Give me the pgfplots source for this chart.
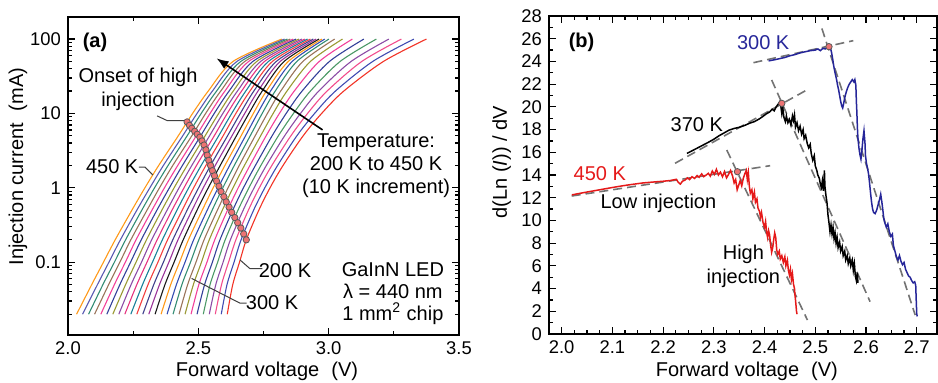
\documentclass[border=0pt]{standalone}
\usepackage{pgfplots}
\pgfplotsset{compat=1.18}
\usepackage{pgfplotstable}
\usepackage{fontspec}
\setmainfont{Liberation Sans}
\usetikzlibrary{arrows.meta}

\definecolor{c0}{rgb}{1.00,0.60,0.10}
\definecolor{c1}{rgb}{0.35,0.35,0.70}
\definecolor{c2}{rgb}{0.20,0.55,0.45}
\definecolor{c3}{rgb}{0.60,0.45,0.35}
\definecolor{c4}{rgb}{0.95,0.25,0.60}
\definecolor{c5}{rgb}{0.20,0.25,0.60}
\definecolor{c6}{rgb}{0.60,0.60,0.20}
\definecolor{c7}{rgb}{0.55,0.30,0.65}
\definecolor{c8}{rgb}{0.90,0.20,0.50}
\definecolor{c9}{rgb}{0.10,0.50,0.60}
\definecolor{c10}{rgb}{0.95,0.25,0.25}
\definecolor{c11}{rgb}{0.25,0.25,0.55}
\definecolor{c12}{rgb}{0.60,0.20,0.60}
\definecolor{c13}{rgb}{0.10,0.10,0.10}
\definecolor{c14}{rgb}{1.00,0.60,0.10}
\definecolor{c15}{rgb}{0.20,0.30,0.70}
\definecolor{c16}{rgb}{0.20,0.55,0.45}
\definecolor{c17}{rgb}{0.60,0.45,0.35}
\definecolor{c18}{rgb}{0.60,0.60,0.20}
\definecolor{c19}{rgb}{0.95,0.25,0.60}
\definecolor{c20}{rgb}{0.20,0.25,0.60}
\definecolor{c21}{rgb}{0.30,0.60,0.40}
\definecolor{c22}{rgb}{0.55,0.30,0.65}
\definecolor{c23}{rgb}{0.95,0.30,0.55}
\definecolor{c24}{rgb}{0.25,0.30,0.70}
\definecolor{c25}{rgb}{0.95,0.20,0.15}
\definecolor{bred}{rgb}{0.90,0.10,0.10}
\definecolor{bblue}{rgb}{0.15,0.15,0.60}
\definecolor{dotfill}{rgb}{0.93,0.45,0.45}
\definecolor{dashgray}{rgb}{0.45,0.45,0.45}

% I-V curves: current (mA) and voltage (V) for 450 K (k0) ... 200 K (k25)
\pgfplotstableread{
I k0 k1 k2 k3 k4 k5 k6 k7 k8 k9 k10 k11 k12 k13 k14 k15 k16 k17 k18 k19 k20 k21 k22 k23 k24 k25
0.02 2.033 2.056 2.079 2.102 2.126 2.149 2.172 2.195 2.218 2.241 2.264 2.287 2.310 2.334 2.357 2.380 2.403 2.426 2.449 2.472 2.495 2.519 2.542 2.565 2.588 2.611
0.05 2.091 2.113 2.134 2.156 2.178 2.199 2.221 2.242 2.264 2.286 2.307 2.329 2.351 2.372 2.394 2.416 2.437 2.459 2.481 2.502 2.524 2.545 2.567 2.589 2.610 2.632
0.1 2.136 2.157 2.178 2.199 2.220 2.240 2.261 2.282 2.303 2.324 2.345 2.366 2.387 2.407 2.428 2.449 2.470 2.491 2.512 2.533 2.554 2.574 2.595 2.616 2.637 2.658
0.2 2.181 2.201 2.221 2.241 2.261 2.281 2.301 2.321 2.342 2.362 2.382 2.402 2.422 2.442 2.462 2.482 2.502 2.522 2.542 2.563 2.583 2.603 2.623 2.644 2.664 2.684
0.5 2.245 2.264 2.283 2.303 2.322 2.341 2.360 2.380 2.399 2.418 2.438 2.457 2.476 2.495 2.515 2.534 2.553 2.573 2.592 2.612 2.632 2.652 2.672 2.692 2.712 2.732
1 2.295 2.314 2.332 2.351 2.370 2.389 2.407 2.426 2.445 2.463 2.482 2.501 2.519 2.538 2.557 2.576 2.594 2.614 2.633 2.653 2.673 2.694 2.714 2.734 2.755 2.775
2 2.348 2.366 2.384 2.402 2.421 2.439 2.457 2.475 2.493 2.511 2.529 2.547 2.565 2.584 2.602 2.620 2.638 2.657 2.677 2.698 2.719 2.740 2.761 2.782 2.804 2.825
5 2.423 2.440 2.457 2.475 2.492 2.509 2.526 2.543 2.561 2.578 2.595 2.612 2.629 2.646 2.664 2.681 2.699 2.718 2.739 2.760 2.783 2.807 2.831 2.855 2.878 2.902
10 2.478 2.495 2.511 2.528 2.545 2.561 2.578 2.594 2.611 2.628 2.644 2.661 2.678 2.694 2.711 2.727 2.745 2.765 2.787 2.811 2.837 2.865 2.892 2.919 2.946 2.973
20 2.538 2.554 2.570 2.586 2.602 2.618 2.634 2.650 2.666 2.682 2.698 2.713 2.729 2.745 2.761 2.777 2.795 2.816 2.840 2.868 2.898 2.930 2.962 2.994 3.026 3.058
50 2.633 2.648 2.663 2.678 2.693 2.709 2.724 2.739 2.754 2.769 2.784 2.799 2.814 2.829 2.845 2.860 2.878 2.901 2.930 2.964 3.003 3.044 3.086 3.127 3.169 3.210
100 2.820 2.831 2.842 2.853 2.864 2.875 2.886 2.897 2.908 2.919 2.930 2.941 2.952 2.963 2.974 2.985 3.001 3.023 3.053 3.091 3.135 3.183 3.231 3.279 3.327 3.375
}\IVdata

\pgfplotsset{
  myax/.style={
    scale only axis,
    /pgf/number format/assume math mode=true,
    axis line style={line width=0.7pt},
    tick style={line width=0.6pt,black},
    major tick length=3.5pt,
    minor tick length=2pt,
    tick align=inside,
    tick label style={font=\fontsize{9.2}{11}\selectfont},
    label style={font=\fontsize{10}{12}\selectfont},
  }
}

\begin{document}
\begin{tikzpicture}[font=\fontsize{10}{12}\selectfont]
% ---------------- panel (a) ----------------
\begin{axis}[myax,
  at={(34pt,23.5pt)}, anchor=south west,
  width=195.5pt, height=159pt,
  xmin=2, xmax=3.5, ymode=log, ymin=0.0105, ymax=198,
  xtick={2,2.5,3,3.5}, xticklabels={2.0,2.5,3.0,3.5},
  minor xtick={2.25,2.75,3.25},
  ytick={0.1,1,10,100}, yticklabels={0.1,1,10,100},
  minor ytick={0.02,0.03,0.04,0.05,0.06,0.07,0.08,0.09,0.2,0.3,0.4,0.5,0.6,0.7,0.8,0.9,2,3,4,5,6,7,8,9,20,30,40,50,60,70,80,90},
  xlabel={Forward voltage\hspace{0.6em}(V)},
  ylabel={Injection current\hspace{0.6em}(mA)},
  xlabel style={at={(axis description cs:0.509,-0.084)},anchor=north,inner sep=0pt},
  ylabel style={at={(axis description cs:-0.128,0.53)},anchor=center,inner sep=0pt},
]
\pgfplotsinvokeforeach{0,...,25}{
  \addplot[c#1, line width=0.55pt, smooth, no markers] table[x=k#1, y=I]{\IVdata};
}
\addplot[only marks, mark=*, mark size=1.6pt,
  mark options={fill=dotfill, draw=black!65, line width=0.4pt}] coordinates {
(2.457,7.69) (2.466,6.92) (2.475,6.31) (2.486,5.75) (2.496,5.25) (2.506,4.79)
(2.514,4.27) (2.522,3.76) (2.529,3.24) (2.534,2.75) (2.540,2.34) (2.547,2.00)
(2.554,1.70) (2.562,1.45) (2.570,1.23) (2.579,1.05) (2.587,0.891) (2.598,0.759)
(2.607,0.646) (2.618,0.550) (2.628,0.468) (2.640,0.398) (2.651,0.339) (2.663,0.288)
(2.674,0.240) (2.684,0.200)};
\node at (rel axis cs:0.069,0.921) {\textbf{(a)}};
\node[align=center] at (rel axis cs:0.179,0.774) {Onset of high\\injection};
\draw[black!75, line width=0.5pt] (rel axis cs:0.228,0.689) -- (rel axis cs:0.254,0.674) -- (rel axis cs:0.300,0.674);
\node at (rel axis cs:0.113,0.528) {450 K};
\draw[black!75, line width=0.5pt] (rel axis cs:0.181,0.528) -- (rel axis cs:0.197,0.528) -- (rel axis cs:0.217,0.503);
\node at (rel axis cs:0.555,0.204) {200 K};
\draw[black!75, line width=0.5pt] (rel axis cs:0.497,0.209) -- (rel axis cs:0.465,0.209) -- (rel axis cs:0.440,0.236);
\node at (rel axis cs:0.522,0.101) {300 K};
\draw[black!75, line width=0.5pt] (rel axis cs:0.457,0.100) -- (rel axis cs:0.440,0.100) -- (rel axis cs:0.316,0.178);
\node[align=center] at (rel axis cs:0.788,0.531) {Temperature:\\[-0.5pt]200 K to 450 K\\[-0.5pt](10 K increment)};
\draw[line width=0.8pt, -{Latex[length=6pt,width=4.5pt]}] (rel axis cs:0.651,0.645) -- (rel axis cs:0.380,0.870);
\node[align=center] at (rel axis cs:0.831,0.130) {GaInN LED\\[-1.2pt]λ = 440 nm\\[-1.2pt]1 mm\textsuperscript{2} chip};
\end{axis}

% ---------------- panel (b) ----------------
\begin{axis}[myax,
  at={(274.5pt,24pt)}, anchor=south west,
  width=194pt, height=159pt,
  xmin=1.975, xmax=2.74, ymin=0, ymax=28,
  xtick={2,2.1,2.2,2.3,2.4,2.5,2.6,2.7},
  xticklabels={2.0,2.1,2.2,2.3,2.4,2.5,2.6,2.7},
  minor x tick num=3,
  ytick={0,2,...,28}, minor y tick num=1,
  xlabel={Forward voltage\hspace{0.6em}(V)},
  ylabel={d(Ln (\textit{I})) / dV},
  xlabel style={at={(axis description cs:0.51,-0.088)},anchor=north,inner sep=0pt},
  ylabel style={at={(axis description cs:-0.122,0.54)},anchor=center,inner sep=0pt},
]
% dashed fit lines
\addplot[dashgray, line width=0.8pt, dash pattern=on 4.5pt off 2.5pt] coordinates {(2.378,23.89) (2.575,25.83)};
\addplot[dashgray, line width=0.8pt, dash pattern=on 4.5pt off 2.5pt] coordinates {(2.513,26.9) (2.697,1.67)};
\addplot[dashgray, line width=0.8pt, dash pattern=on 4.5pt off 2.5pt] coordinates {(2.2235,15.03) (2.483,21.48)};
\addplot[dashgray, line width=0.8pt, dash pattern=on 4.5pt off 2.5pt] coordinates {(2.414,22.37) (2.608,2.85)};
\addplot[dashgray, line width=0.8pt, dash pattern=on 4.5pt off 2.5pt] coordinates {(2.0197,12.15) (2.411,14.82)};
\addplot[dashgray, line width=0.8pt, dash pattern=on 4.5pt off 2.5pt] coordinates {(2.3255,16.2) (2.4845,1.23)};
% 450 K
\addplot[bred, line width=0.75pt, no markers] coordinates {
(2.020,12.25) (2.040,12.42) (2.060,12.58) (2.080,12.74) (2.100,12.90) (2.120,13.05) (2.140,13.18) (2.160,13.30) (2.180,13.38) (2.200,13.45) (2.215,13.52) (2.226,13.62) (2.230,13.35) (2.234,13.20) (2.238,13.45) (2.243,13.55) (2.248,13.75) (2.252,13.60) (2.257,13.85) (2.262,13.70) (2.267,13.95) (2.271,13.80) (2.276,14.10) (2.280,13.85) (2.285,14.00) (2.289,14.15) (2.293,13.90) (2.297,14.35) (2.301,14.05) (2.305,14.50) (2.309,14.00) (2.313,14.25) (2.317,13.85) (2.321,14.30) (2.325,13.75) (2.329,14.05) (2.333,14.40) (2.337,13.90) (2.340,13.30) (2.343,13.60) (2.346,12.70) (2.349,13.10) (2.352,13.50) (2.355,13.05) (2.358,13.70) (2.361,14.10) (2.364,14.40) (2.366,13.60) (2.368,14.20) (2.370,13.00) (2.372,12.40) (2.375,12.70) (2.377,11.90) (2.380,12.50) (2.382,11.60) (2.385,11.90) (2.387,11.10) (2.390,10.80) (2.392,10.30) (2.394,10.70) (2.397,9.80) (2.400,9.40) (2.402,9.90) (2.404,9.00) (2.406,8.50) (2.408,9.10) (2.410,8.70) (2.412,7.80) (2.414,7.20) (2.416,7.60) (2.418,8.30) (2.420,8.90) (2.422,8.50) (2.424,7.40) (2.426,7.00) (2.429,7.30) (2.431,6.60) (2.434,6.90) (2.437,6.30) (2.440,6.80) (2.442,6.00) (2.445,6.50) (2.447,5.60) (2.449,5.20) (2.451,5.70) (2.453,4.80) (2.455,5.30) (2.457,4.40) (2.459,4.00) (2.460,3.40) (2.461,3.00) (2.462,2.50) (2.463,2.00) (2.464,1.75)};
% 370 K
\addplot[black, line width=0.75pt, no markers] coordinates {
(2.247,15.90) (2.260,16.20) (2.275,16.55) (2.290,16.90) (2.300,17.15) (2.310,17.45) (2.320,17.70) (2.330,17.95) (2.340,18.10) (2.350,18.20) (2.360,18.35) (2.370,18.55) (2.380,18.70) (2.390,18.95) (2.398,19.20) (2.404,19.40) (2.410,19.55) (2.415,19.80) (2.419,19.65) (2.423,20.00) (2.427,20.25) (2.430,20.45) (2.432,20.10) (2.434,19.40) (2.436,19.90) (2.438,19.10) (2.441,18.70) (2.443,19.20) (2.446,18.60) (2.449,18.90) (2.452,18.40) (2.455,19.20) (2.457,18.80) (2.459,19.30) (2.461,18.20) (2.464,18.60) (2.467,17.90) (2.470,18.30) (2.473,17.60) (2.476,18.00) (2.478,17.20) (2.481,17.50) (2.484,16.80) (2.487,16.40) (2.490,16.70) (2.492,15.90) (2.495,15.30) (2.498,15.70) (2.500,14.80) (2.503,14.40) (2.505,14.00) (2.508,13.70) (2.510,13.20) (2.512,12.90) (2.514,13.50) (2.516,12.60) (2.518,14.40) (2.519,13.00) (2.521,12.20) (2.523,11.60) (2.525,10.50) (2.527,9.80) (2.529,9.00) (2.531,9.60) (2.533,8.80) (2.535,9.40) (2.537,8.40) (2.539,8.90) (2.541,8.00) (2.543,8.50) (2.545,7.60) (2.548,8.10) (2.550,7.30) (2.553,7.70) (2.555,6.90) (2.558,7.30) (2.560,6.50) (2.563,6.90) (2.565,6.20) (2.568,6.70) (2.570,6.00) (2.573,6.50) (2.575,5.60) (2.577,6.20) (2.579,5.10) (2.581,4.70) (2.583,5.40) (2.584,4.50)};
% 300 K
\addplot[bblue, line width=0.75pt, no markers] coordinates {
(2.408,24.05) (2.420,24.15) (2.430,24.25) (2.440,24.35) (2.450,24.50) (2.460,24.60) (2.470,24.75) (2.480,24.85) (2.490,24.95) (2.500,25.00) (2.505,25.10) (2.510,24.95) (2.515,25.15) (2.520,25.10) (2.524,25.25) (2.527,25.30) (2.530,25.15) (2.532,24.80) (2.534,24.30) (2.536,23.70) (2.538,23.20) (2.540,22.80) (2.542,22.40) (2.544,21.90) (2.546,21.50) (2.548,21.00) (2.550,20.50) (2.552,20.10) (2.554,19.90) (2.556,20.30) (2.558,20.80) (2.561,21.30) (2.564,21.70) (2.567,22.00) (2.570,22.20) (2.573,22.40) (2.576,22.20) (2.578,22.40) (2.580,21.90) (2.581,20.50) (2.582,19.50) (2.583,18.20) (2.584,17.30) (2.586,16.40) (2.588,15.80) (2.590,15.40) (2.592,16.20) (2.594,17.20) (2.596,17.90) (2.598,16.80) (2.599,15.70) (2.601,15.00) (2.603,14.60) (2.605,14.10) (2.607,13.30) (2.609,12.40) (2.611,11.60) (2.613,11.00) (2.615,10.70) (2.618,10.60) (2.621,10.90) (2.624,11.40) (2.627,11.90) (2.629,12.30) (2.631,11.70) (2.633,11.00) (2.635,10.20) (2.637,9.80) (2.640,9.40) (2.643,9.70) (2.646,9.00) (2.649,8.60) (2.652,8.80) (2.654,7.80) (2.657,7.30) (2.660,6.80) (2.663,6.50) (2.666,6.90) (2.669,6.40) (2.672,6.10) (2.675,6.30) (2.678,5.70) (2.681,5.40) (2.684,5.10) (2.687,5.00) (2.690,4.70) (2.693,4.50) (2.696,4.60) (2.698,4.30) (2.699,3.00) (2.700,1.80) (2.701,1.55)};
\addplot[only marks, mark=*, mark size=1.6pt,
  mark options={fill=dotfill, draw=black!65, line width=0.4pt}] coordinates {(2.3465,14.29) (2.434,20.31) (2.527,25.3)};
\node at (rel axis cs:0.084,0.916) {\textbf{(b)}};
\node[text=bblue] at (rel axis cs:0.552,0.916) {300 K};
\node at (rel axis cs:0.381,0.657) {370 K};
\node[text=bred] at (rel axis cs:0.131,0.505) {450 K};
\node at (rel axis cs:0.282,0.411) {Low injection};
\node[align=center] at (rel axis cs:0.501,0.214) {High\\injection};
\end{axis}
\pgfresetboundingbox
\path[use as bounding box] (0pt,0pt) rectangle (469pt,191pt);
\end{tikzpicture}
\end{document}
